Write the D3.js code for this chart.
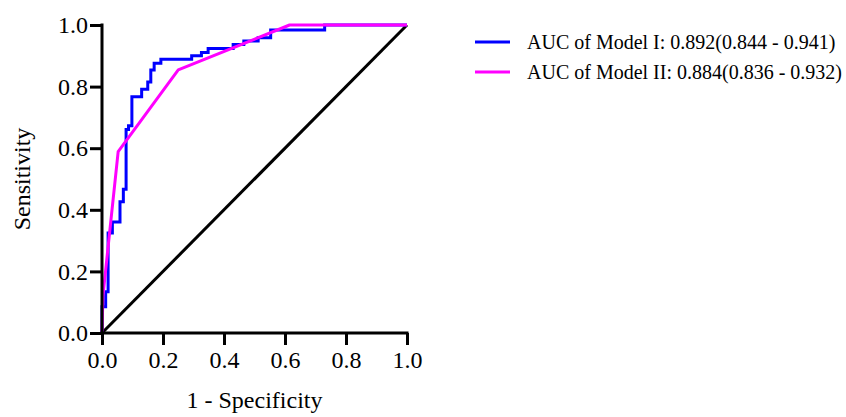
<!DOCTYPE html>
<html><head><meta charset="utf-8">
<script src="https://cdn.jsdelivr.net/npm/d3@7"></script>
<style>html,body{margin:0;padding:0;background:#fff;}</style>
</head><body>
<svg id="chart" width="846" height="417"></svg>
<script>
// Model I (blue) ROC corner points
const fpr1 = [0, 0, 0.012, 0.012, 0.020, 0.020, 0.034, 0.034, 0.059, 0.059, 0.070, 0.070, 0.079, 0.079, 0.087, 0.087, 0.098, 0.098, 0.130, 0.130, 0.150, 0.150, 0.160, 0.160, 0.171, 0.171, 0.193, 0.193, 0.294, 0.294, 0.326, 0.326, 0.348, 0.348, 0.430, 0.430, 0.465, 0.465, 0.512, 0.512, 0.553, 0.553, 0.730, 0.730, 1.0];
const tpr1 = [0, 0.085, 0.085, 0.134, 0.134, 0.325, 0.325, 0.360, 0.360, 0.426, 0.426, 0.467, 0.467, 0.661, 0.661, 0.673, 0.673, 0.767, 0.767, 0.791, 0.791, 0.815, 0.815, 0.854, 0.854, 0.876, 0.876, 0.889, 0.889, 0.900, 0.900, 0.911, 0.911, 0.924, 0.924, 0.937, 0.937, 0.948, 0.948, 0.959, 0.959, 0.984, 0.984, 1.0, 1.0];
// Model II (magenta) ROC points
const fpr2 = [0, 0.003, 0.053, 0.250, 0.615, 1.0];
const tpr2 = [0, 0.120, 0.589, 0.854, 1.0, 1.0];
const ticks = [0, 0.2, 0.4, 0.6, 0.8, 1.0];
const seriesNames = ["AUC of Model I: 0.892(0.844 - 0.941)", "AUC of Model II: 0.884(0.836 - 0.932)"];
const seriesColors = ["#0000ff", "#ff00ff"];
const xTitle = "1 - Specificity";
const yTitle = "Sensitivity";

const svg = d3.select("#chart");
const font = "'Liberation Serif', 'Times New Roman', serif";
const x = d3.scaleLinear().domain([0, 1]).range([102, 407]);
const y = d3.scaleLinear().domain([0, 1]).range([333, 25]);

// diagonal reference
svg.append("line")
  .attr("x1", x(0)).attr("y1", y(0)).attr("x2", x(1)).attr("y2", y(1))
  .attr("stroke", "#000").attr("stroke-width", 3);

const line = d3.line().x(d => x(d[0])).y(d => y(d[1]));
const d1 = fpr1.map((v, i) => [v, tpr1[i]]);
const d2 = fpr2.map((v, i) => [v, tpr2[i]]);
svg.append("path").attr("d", line(d1)).attr("fill", "none")
  .attr("stroke", seriesColors[0]).attr("stroke-width", 3).attr("stroke-linejoin", "miter");
svg.append("path").attr("d", line(d2)).attr("fill", "none")
  .attr("stroke", seriesColors[1]).attr("stroke-width", 3).attr("stroke-linejoin", "round");

// axes
const fmt = d3.format(".1f");
const xAxis = svg.append("g").attr("transform", `translate(0,${y(0)})`)
  .call(d3.axisBottom(x).tickValues(ticks).tickFormat(fmt).tickSize(12).tickPadding(6));
const yAxis = svg.append("g").attr("transform", `translate(${x(0)},0)`)
  .call(d3.axisLeft(y).tickValues(ticks).tickFormat(fmt).tickSize(12).tickPadding(2));
[xAxis, yAxis].forEach(g => {
  g.select(".domain").attr("stroke", "#000").attr("stroke-width", 3)
    .attr("d", g === xAxis ? `M${x(0)-1.5},0H${x(1)+1.5}` : `M0,${y(0)+1.5}V${y(1)-1.5}`);
  g.selectAll(".tick line").attr("stroke", "#000").attr("stroke-width", 3);
  g.selectAll(".tick text").attr("font-family", font).attr("font-size", 24).attr("fill", "#000");
});

svg.append("text").attr("x", (x(0) + x(1)) / 2).attr("y", 408)
  .attr("text-anchor", "middle").attr("font-family", font).attr("font-size", 24)
  .text(xTitle);
svg.append("text").attr("transform", `translate(30,${(y(0) + y(1)) / 2}) rotate(-90)`)
  .attr("text-anchor", "middle").attr("font-family", font).attr("font-size", 24)
  .text(yTitle);

// legend
const leg = svg.append("g");
seriesNames.forEach((name, i) => {
  const ly = 42 + i * 30;
  leg.append("line").attr("x1", 475).attr("x2", 510).attr("y1", ly).attr("y2", ly)
    .attr("stroke", seriesColors[i]).attr("stroke-width", 3);
  leg.append("text").attr("x", 527).attr("y", ly).attr("dy", "0.35em")
    .attr("font-family", font).attr("font-size", 20).attr("fill", "#000").text(name);
});
</script>
</body></html>
